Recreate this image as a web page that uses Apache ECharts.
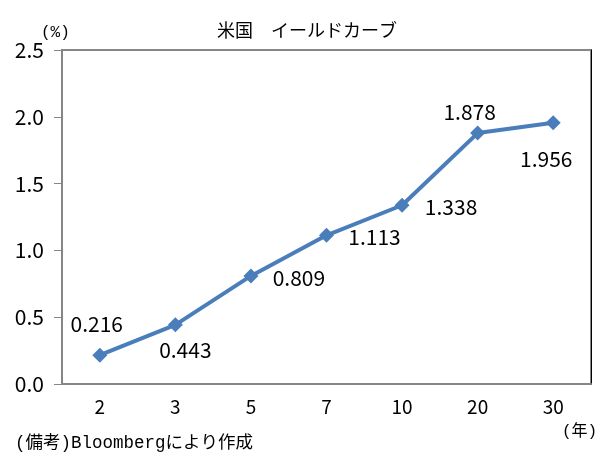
<!DOCTYPE html>
<html>
<head>
<meta charset="utf-8">
<script src="https://cdn.jsdelivr.net/npm/echarts@6/dist/echarts.min.js"></script>
<style>html,body{margin:0;padding:0;background:#fff}#c{width:610px;height:462px}</style>
</head>
<body>
<div id="c"></div>
<script>
const categories = ['2', '3', '5', '7', '10', '20', '30'];
const yieldValues = [0.216, 0.443, 0.809, 1.113, 1.338, 1.878, 1.956];
const labelTexts = ['0.216', '0.443', '0.809', '1.113', '1.338', '1.878', '1.956'];

// label placement relative to each point (layout only)
const labelOffsets = [[-3, -31], [10, 25], [48, 2], [48, 2], [49, 2], [-8, -21], [-7, 36]];

const NUMFONT = "'Noto Sans CJK JP', sans-serif";
const TXTFONT = "'Liberation Mono', 'Noto Sans CJK JP', monospace";
const chart = echarts.init(document.getElementById('c'), null, {renderer: 'canvas'});

const option = {
  backgroundColor: '#ffffff',
  animation: false,
  textStyle: {fontFamily: NUMFONT},
  title: [
    {text: '米国　イールドカーブ', left: 302, top: 18, textAlign: 'center',
     textStyle: {fontFamily: TXTFONT, fontSize: 18, fontWeight: 'normal', color: '#000'}},
    {text: '(%)', left: 36, top: 20,
     textStyle: {fontFamily: TXTFONT, fontSize: 16, fontWeight: 'normal', color: '#000'}},
    {text: '(年)', left: 557, top: 419,
     textStyle: {fontFamily: TXTFONT, fontSize: 16, fontWeight: 'normal', color: '#000'}},
    {text: '(備考)Bloombergにより作成', left: 10, top: 430,
     textStyle: {fontFamily: TXTFONT, fontSize: 17.5, fontWeight: 'normal', color: '#000'}}
  ],
  grid: {left: 62, right: 19, top: 50, bottom: 78, show: true,
         borderColor: '#868686', borderWidth: 2, backgroundColor: 'transparent'},
  xAxis: {
    type: 'category', data: categories, boundaryGap: true,
    axisLine: {lineStyle: {color: '#868686', width: 2}},
    axisTick: {show: false},
    axisLabel: {color: '#000', fontSize: 19, fontFamily: NUMFONT, margin: 13}
  },
  yAxis: [{
    type: 'value', min: 0, max: 2.5, interval: 0.5,
    axisLine: {show: true, lineStyle: {color: '#868686', width: 2}},
    axisTick: {show: true, length: 8, lineStyle: {color: '#868686', width: 1}},
    splitLine: {show: false},
    axisLabel: {color: '#000', fontSize: 21, fontFamily: NUMFONT, margin: 18,
                formatter: v => v.toFixed(1)}
  }, {
    type: 'value', min: 0, max: 2.5, interval: 0.5, position: 'right',
    axisLine: {show: true, lineStyle: {color: '#000', width: 1}},
    axisTick: {show: false}, axisLabel: {show: false}, splitLine: {show: false}
  }],
  series: [{
    type: 'line',
    data: yieldValues.map((v, i) => ({
      value: v,
      label: {show: true, position: 'inside', offset: labelOffsets[i],
              formatter: () => labelTexts[i]}
    })),
    symbol: 'diamond', symbolSize: 15,
    lineStyle: {color: '#4a7ebb', width: 4},
    itemStyle: {color: '#4a7ebb'},
    label: {color: '#000', fontSize: 21, fontFamily: NUMFONT}
  }]
};
chart.setOption(option);
</script>
</body>
</html>
